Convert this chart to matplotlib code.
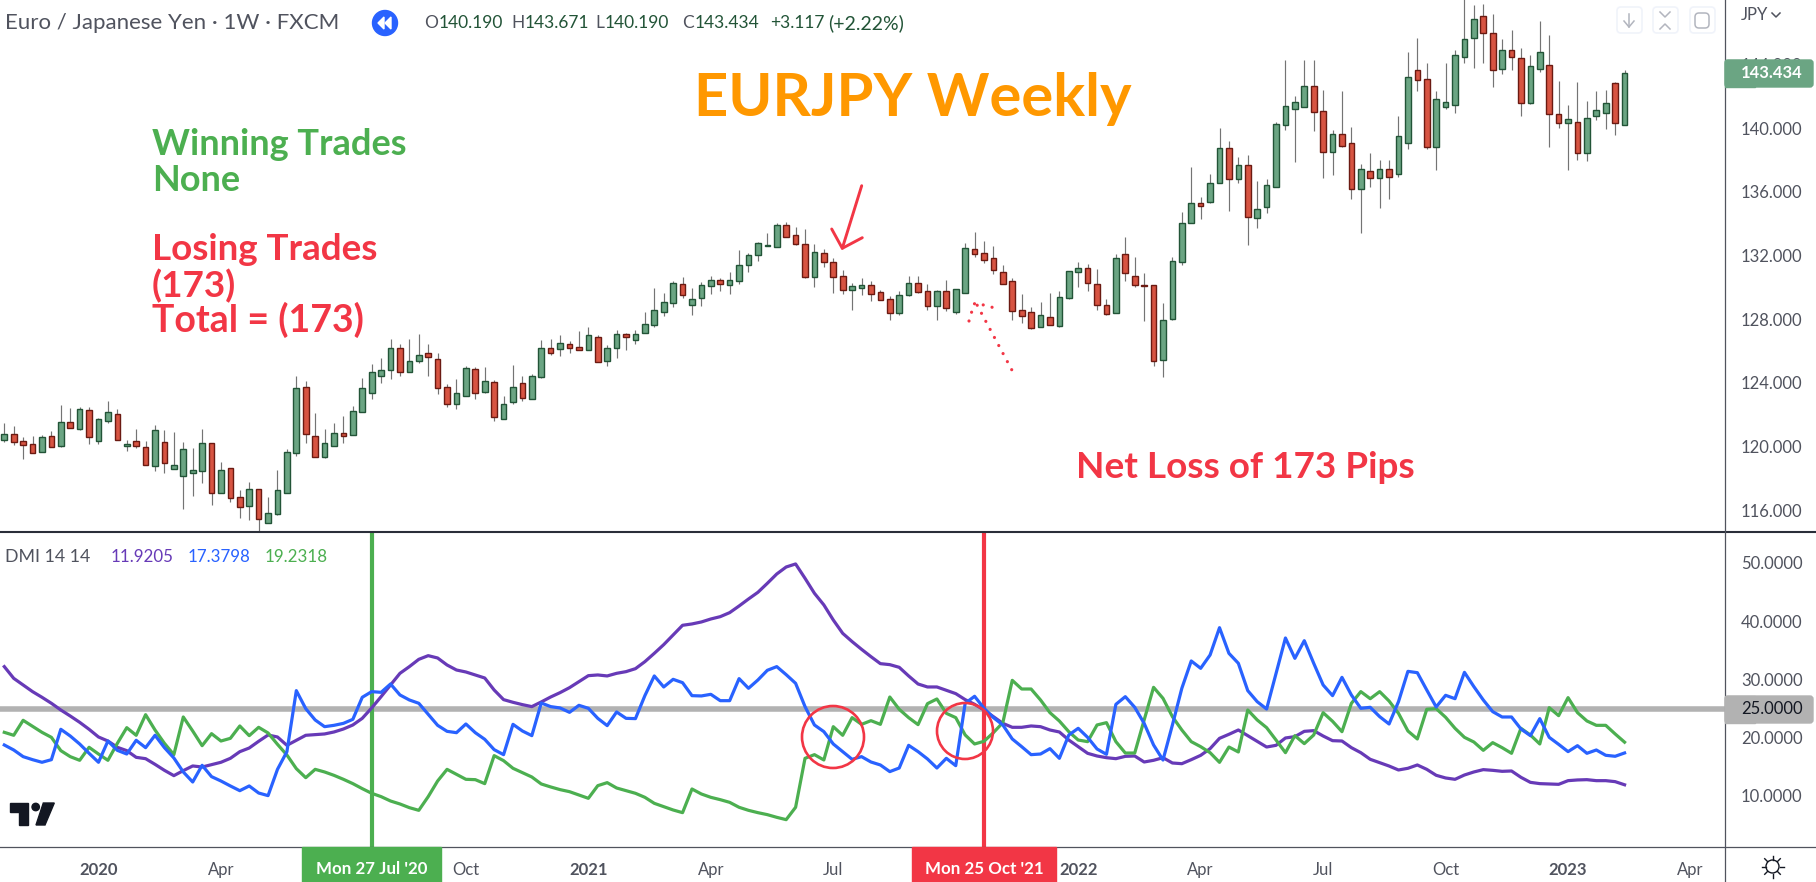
import numpy as np
import pandas as pd
import matplotlib
matplotlib.use('Agg')
import matplotlib.pyplot as plt
from matplotlib.patches import Circle, FancyBboxPatch, Polygon, Rectangle

plt.rcParams['font.family'] = ['Lato', 'DejaVu Sans']

# weekly candles, EURJPY
opens = [120.44,120.77,120.33,120.14,119.68,120.64,120.06,121.52,121.13,122.28,
         120.37,121.63,122.02,120.06,120.33,119.95,118.80,120.27,118.61,118.17,
         118.36,118.49,120.20,117.11,118.64,116.81,116.29,117.32,115.22,115.79,
         117.11,119.62,123.72,120.64,119.37,120.06,120.83,120.75,122.19,123.39,
         124.45,124.79,126.17,124.66,125.39,125.85,125.48,123.72,122.69,123.20,
         124.85,123.45,124.03,121.71,122.78,123.97,122.97,124.39,126.17,126.15,
         126.42,126.23,126.08,126.86,125.39,126.21,127.05,126.71,127.15,127.65,
         128.47,129.03,130.19,128.91,129.35,130.10,130.44,130.16,130.42,131.42,
         132.00,132.61,132.55,133.89,133.26,132.70,130.67,132.13,131.57,130.69,
         129.85,129.98,130.12,129.68,129.24,128.41,129.54,130.25,129.75,128.85,
         129.75,128.47,129.66,132.38,132.13,131.82,130.94,130.37,128.55,128.43,
         127.53,128.11,127.59,129.35,130.98,131.19,130.19,128.87,128.41,132.07,
         130.69,130.12,130.12,125.46,128.03,131.61,134.02,135.27,135.38,136.53,
         138.72,136.82,137.66,134.37,135.06,136.32,140.21,141.21,141.34,142.62,
         141.05,138.51,139.60,139.04,136.19,137.28,136.88,137.40,137.13,139.08,
         143.62,143.05,138.83,141.34,141.46,144.48,145.63,147.01,145.94,143.68,
         144.88,144.37,141.59,143.68,143.93,140.86,140.29,140.36,138.41,140.73,
         140.92,142.80,140.19]
highs = [121.48,121.29,120.58,120.66,120.71,120.98,122.61,122.42,122.47,122.47,
         121.77,122.86,122.34,120.39,121.08,120.33,121.33,121.02,120.89,120.27,
         119.91,121.08,120.20,119.01,118.64,117.25,117.76,117.32,116.81,118.51,
         119.85,124.41,124.10,122.09,121.08,121.46,121.90,122.53,124.29,125.16,
         125.54,126.73,126.42,126.73,127.05,126.42,125.85,123.91,124.22,125.04,
         124.97,124.97,124.16,123.15,125.10,124.41,124.54,126.67,126.73,126.98,
         126.61,127.24,127.49,126.98,126.36,127.30,127.11,127.30,128.43,129.93,
         129.62,130.37,130.62,129.93,130.31,130.69,130.56,130.94,132.32,132.13,
         132.82,133.39,134.01,134.08,133.76,133.64,132.70,132.38,131.82,131.06,
         130.25,130.56,130.37,129.81,129.43,129.75,130.69,130.69,130.19,129.81,
         130.44,129.87,132.76,133.45,132.89,132.57,131.38,130.56,129.56,128.74,
         129.06,129.62,129.75,131.00,131.57,131.44,131.13,129.24,132.07,133.14,
         131.88,130.88,130.12,128.99,131.88,134.71,137.53,135.65,137.09,139.98,
         139.16,138.16,138.28,136.65,136.78,140.36,144.25,141.99,144.25,144.25,
         142.36,139.85,142.30,140.04,137.72,138.41,137.97,137.97,140.73,144.75,
         145.63,144.06,142.30,144.06,144.88,148.50,147.72,147.78,147.14,145.57,
         146.13,145.00,144.56,146.69,145.82,142.95,141.42,142.87,141.67,142.30,
         142.36,142.87,143.67]
lows = [120.31,120.12,119.22,119.62,119.68,120.00,120.00,121.19,121.06,120.18,
        120.18,121.48,120.44,119.72,119.93,118.87,118.49,118.36,118.61,116.10,
        116.92,117.73,116.35,117.11,116.54,115.54,115.41,114.66,115.22,115.71,
        117.11,119.43,120.23,119.37,119.31,120.06,120.25,120.75,122.19,123.01,
        124.01,124.26,124.45,124.66,125.27,124.45,123.32,122.51,122.38,123.20,
        123.01,123.39,121.63,121.71,122.65,122.84,122.97,124.33,125.77,125.71,
        125.90,126.08,126.08,125.33,125.08,125.58,126.08,126.46,127.15,127.53,
        128.22,128.78,129.35,128.28,128.85,129.60,129.79,129.60,130.23,130.98,
        131.67,132.57,132.55,133.18,132.68,130.60,130.04,131.29,129.66,129.60,
        128.59,129.54,129.16,129.22,127.97,128.28,129.47,129.66,128.59,127.97,
        128.53,128.35,129.66,131.92,131.55,130.85,130.23,127.97,127.78,127.40,
        127.53,127.65,127.53,129.28,130.04,129.79,128.60,128.28,128.41,130.42,
        130.04,127.90,125.08,124.39,127.97,131.42,134.02,134.31,135.31,136.53,
        134.81,136.57,132.68,133.74,134.69,136.32,139.89,137.89,141.34,139.83,
        136.88,137.07,138.83,135.56,133.43,136.32,135.00,135.56,136.94,138.70,
        142.34,138.70,137.38,141.21,140.96,144.10,143.79,144.10,142.60,143.41,
        143.66,140.77,141.53,143.54,138.83,140.02,137.38,137.99,137.95,140.48,
        139.96,139.58,140.19]
closes = [120.77,120.31,120.12,119.62,120.58,120.00,121.52,121.19,122.34,120.62,
          121.71,122.15,120.44,120.14,120.06,118.87,121.02,118.99,118.82,119.83,
          118.51,120.20,117.11,118.51,116.79,116.23,117.32,115.47,115.81,117.25,
          119.64,123.66,120.81,119.37,120.20,120.83,120.69,122.21,123.66,124.66,
          124.79,126.17,124.70,125.35,125.73,125.65,123.70,122.69,123.34,124.91,
          123.39,124.10,121.84,122.65,123.72,123.03,124.41,126.17,125.90,126.48,
          126.21,126.08,126.98,125.33,126.17,127.05,126.90,127.05,127.67,128.55,
          129.06,130.25,129.54,129.24,130.12,130.44,130.23,130.44,131.38,132.00,
          132.76,132.63,133.89,133.18,132.74,130.67,132.19,131.61,130.67,129.85,
          130.06,130.12,129.60,129.22,128.41,129.49,130.25,129.73,128.85,129.75,
          128.72,129.87,132.45,132.11,131.73,131.10,130.23,128.53,128.22,127.46,
          128.24,127.65,129.37,131.00,131.19,130.29,128.91,128.34,131.82,130.92,
          130.17,130.10,125.39,127.93,131.63,134.02,135.27,135.13,136.53,138.72,
          136.82,137.66,134.43,134.90,136.40,140.23,141.36,141.61,142.62,141.03,
          138.51,139.60,138.89,136.19,137.40,136.88,137.40,136.94,139.48,143.18,
          143.03,138.83,141.80,141.61,144.56,145.57,146.82,145.94,143.62,144.88,
          144.44,141.55,143.87,144.75,140.86,140.29,140.54,138.45,140.61,141.11,
          141.55,140.29,143.43]

# DMI 14 14
adx = [32.19,30.18,29.04,27.90,26.93,25.90,24.75,23.72,22.64,21.44,
       20.12,19.43,18.35,17.78,16.63,16.40,15.43,14.40,13.49,14.35,
       15.15,14.97,15.37,15.78,16.46,17.60,18.23,19.38,20.46,20.12,
       18.69,19.55,20.41,20.52,20.64,20.98,21.49,22.18,23.32,25.10,
       27.04,29.04,31.04,32.19,33.44,34.07,33.67,32.47,31.61,31.27,
       30.76,30.24,28.18,26.53,26.07,25.67,25.33,26.13,26.98,27.73,
       28.58,29.61,30.64,30.76,30.59,31.04,31.33,31.84,33.04,34.47,
       35.96,37.62,39.28,39.51,39.85,40.36,40.76,41.45,42.59,43.79,
       44.94,46.48,48.08,49.28,49.80,47.34,44.77,42.77,40.19,37.90,
       36.48,35.16,33.90,32.70,32.53,32.07,30.59,29.21,28.70,28.70,
       28.13,27.56,26.53,25.73,24.75,23.61,22.46,21.78,21.78,22.01,
       21.89,21.32,20.98,19.60,18.46,17.32,16.86,16.57,16.40,16.80,
       16.86,15.83,16.12,16.57,15.66,15.54,16.23,16.97,18.12,19.89,
       20.58,21.32,20.35,19.38,18.40,18.69,19.95,20.18,21.09,21.21,
       20.29,19.49,19.43,18.29,17.43,16.29,15.72,15.14,14.46,14.75,
       15.32,14.57,13.55,13.09,12.86,13.60,14.12,14.52,14.40,14.23,
       14.29,13.20,12.34,12.12,12.06,12.00,12.63,12.75,12.80,12.63,
       12.63,12.46,11.92]
plus_di = [18.75,17.89,16.75,16.23,15.78,16.23,21.44,20.29,18.92,17.32,
           15.78,19.43,17.83,17.20,19.55,18.29,20.41,18.29,16.52,14.12,
           12.40,15.26,13.32,12.57,11.72,10.91,11.72,10.51,10.06,14.57,
           17.60,28.07,24.98,23.04,21.89,22.12,22.46,23.15,26.93,27.90,
           27.78,29.21,27.33,26.47,25.90,24.01,22.12,21.09,20.86,22.35,
           20.86,19.72,17.95,17.09,22.29,21.15,20.35,25.95,25.33,25.10,
           24.35,25.55,25.04,23.32,22.07,24.41,23.32,23.27,27.21,30.59,
           28.70,30.01,29.44,27.21,27.16,27.44,26.35,26.35,30.13,28.47,
           29.90,31.56,32.19,30.81,29.33,25.33,22.18,21.04,18.92,17.61,
           16.29,16.75,15.83,15.32,14.18,14.80,18.69,17.61,16.35,14.80,
           16.46,15.20,25.90,27.10,25.04,23.44,22.18,19.78,18.46,17.09,
           17.20,18.12,16.46,20.46,21.61,20.06,18.06,17.15,25.72,27.04,
           25.21,22.46,18.75,16.17,22.18,28.47,33.16,31.90,34.19,38.87,
           34.47,32.76,28.07,26.18,24.92,31.04,37.10,33.61,36.64,32.76,
           29.04,27.21,30.35,27.32,25.04,25.21,23.61,22.35,26.18,31.38,
           31.15,28.18,25.27,27.27,26.69,31.21,28.76,26.47,24.47,23.55,
           23.55,21.49,20.35,23.27,20.06,18.86,17.61,18.63,17.32,17.89,
           16.98,16.81,17.38]
minus_di = [20.92,20.41,22.98,21.95,20.92,20.06,17.78,16.75,16.12,18.35,
            17.20,16.12,19.03,21.72,20.41,23.95,21.32,19.03,17.09,23.55,
            21.15,18.63,20.69,19.43,19.89,22.01,20.35,21.78,20.81,18.86,
            17.03,14.69,13.14,14.57,14.12,13.54,12.86,12.12,11.26,10.46,
            9.89,9.14,8.63,8.00,7.54,9.89,12.57,14.57,13.72,12.86,
            12.80,12.12,16.92,16.06,14.75,14.00,13.26,12.06,11.55,11.09,
            10.74,10.17,9.60,11.77,12.29,11.37,10.92,10.46,9.77,8.74,
            8.17,7.60,7.14,11.20,10.34,9.77,9.37,8.91,8.06,7.54,
            7.14,6.80,6.34,5.94,8.06,16.46,17.09,16.18,21.89,20.41,
            23.44,22.29,22.92,22.29,26.98,24.87,23.44,22.24,25.84,26.64,
            24.18,23.44,20.47,18.92,19.38,20.87,22.58,29.84,28.35,28.35,
            26.47,24.29,22.86,21.03,19.60,19.32,22.18,22.58,19.32,17.37,
            17.37,23.04,28.64,26.75,23.61,21.32,19.32,18.46,17.43,15.77,
            18.40,17.55,24.75,23.04,21.72,19.60,17.43,20.35,18.98,20.46,
            24.29,22.81,21.03,25.89,27.90,26.69,27.90,26.29,24.18,21.15,
            19.78,24.87,24.98,23.50,21.61,20.06,19.26,17.83,19.15,18.29,
            17.32,21.61,20.46,18.92,25.15,23.78,26.87,24.30,22.87,22.12,
            22.12,20.64,19.23]

first_week = '2019-10-28'
tick_dates = ['2020-01-06', '2020-04-06', '2020-10-05', '2021-01-04', '2021-04-05', '2021-07-05',
              '2022-01-03', '2022-04-04', '2022-07-04', '2022-10-03', '2023-01-02', '2023-04-03']
tick_labels = ['2020', 'Apr', 'Oct', '2021', 'Apr', 'Jul', '2022', 'Apr', 'Jul', 'Oct', '2023', 'Apr']
entry_date = '2020-07-27'
exit_date = '2021-10-25'
price_ticks = [116, 120, 124, 128, 132, 136, 140, 144]
dmi_ticks = [10, 20, 30, 40, 50]
dmi_level = 25.0
last_close = 143.434


def week_pos(date):
    return (pd.Timestamp(date) - pd.Timestamp(first_week)).days / 7


W, H = 1816, 882
GREEN = '#4caf50'
RED = '#f23645'
TEXT = '#50535e'

fig = plt.figure(figsize=(W / 100, H / 100), dpi=100, facecolor='white')

# price pane
ax = fig.add_axes([0, 1 - 532 / H, 1725 / W, 532 / H])
opens, highs, lows, closes = map(np.array, (opens, highs, lows, closes))
x = np.arange(len(opens))
up = closes >= opens
ax.vlines(x, lows, highs, colors='#747474', linewidth=0.85, zorder=2)
ax.bar(x[up], (closes - opens)[up], bottom=opens[up], width=0.6, color='#6ba583',
       edgecolor='#225437', linewidth=1.0, zorder=3)
ax.bar(x[~up], (opens - closes)[~up], bottom=closes[~up], width=0.6, color='#d75442',
       edgecolor='#6b1a12', linewidth=1.0, zorder=3)
ax.set_xlim(-0.456, 182.66)
ax.set_ylim(114.64, 148.035)
ax.set_xticks([])
ax.yaxis.tick_right()
ax.set_yticks(price_ticks)
ax.set_yticklabels(['%.3f' % t for t in price_ticks], fontsize=12, color=TEXT)
ax.tick_params(axis='y', length=0, pad=11.5)
for s in ax.spines.values():
    s.set_visible(False)

# DMI pane
ax2 = fig.add_axes([0, 1 - 847 / H, 1725 / W, 314 / H])
ax2.axhline(dmi_level, color='#b2b2b2', linewidth=4, zorder=1)
ax2.plot(x, adx, color='#673ab7', linewidth=2.3, zorder=3)
ax2.plot(x, minus_di, color=GREEN, linewidth=2.3, zorder=3)
ax2.plot(x, plus_di, color='#2962ff', linewidth=2.3, zorder=4)
ax2.axvline(week_pos(entry_date), color=GREEN, linewidth=3, zorder=2)
ax2.axvline(week_pos(exit_date), color=RED, linewidth=3, zorder=2)
ax2.set_xlim(-0.456, 182.66)
ax2.set_ylim(1.25, 55.11)
ax2.set_xticks([week_pos(d) for d in tick_dates])
ax2.set_xticklabels(tick_labels, fontsize=12, color=TEXT)
for lab in ax2.get_xticklabels():
    if lab.get_text().isdigit():
        lab.set_fontweight('bold')
ax2.tick_params(axis='x', length=0, pad=11)
ax2.yaxis.tick_right()
ax2.set_yticks(dmi_ticks)
ax2.set_yticklabels(['%.4f' % t for t in dmi_ticks], fontsize=12, color=TEXT)
ax2.tick_params(axis='y', length=0, pad=11.5)
for s in ax2.spines.values():
    s.set_visible(False)

# overlay in pixel coordinates for frame, notes and icons
ov = fig.add_axes([0, 0, 1, 1], zorder=10)
ov.set_xlim(0, W)
ov.set_ylim(H, 0)
ov.axis('off')
ov.patch.set_alpha(0)

ov.plot([0, W], [532, 532], color='#2a2e39', linewidth=1.5)
ov.plot([0, W], [847, 847], color='#50535e', linewidth=0.9)
ov.plot([1725, 1725], [0, H], color='#50535e', linewidth=0.9)

# header
ov.text(5, 23, 'Euro / Japanese Yen · 1W · FXCM', fontsize=16, color=TEXT, va='center')
ov.add_patch(Circle((385, 23), 12.5, color='#2962ff'))
ov.add_patch(Polygon([(384, 17), (378, 23), (384, 29)], color='white'))
ov.add_patch(Polygon([(391, 17), (385, 23), (391, 29)], color='white'))
ohlc_green = '#225437'
for px, letter, val in [(424, 'O', '140.190'), (511, 'H', '143.671'), (595, 'L', '140.190'), (682, 'C', '143.434')]:
    t = ov.text(px, 23, letter, fontsize=12.5, color=TEXT, va='center')
    ov.annotate(val, xy=(1, 0.5), xycoords=t, xytext=(0.5, 0), textcoords='offset points',
                fontsize=12.5, color=ohlc_green, va='center')
ov.text(770, 23, '+3.117', fontsize=12.5, color=ohlc_green, va='center')
ov.text(828, 23, '(+2.22%)', fontsize=14, color=ohlc_green, va='center')

# DMI legend
ov.text(5, 557, 'DMI 14 14', fontsize=12.8, color=TEXT, va='center')
ov.text(111, 557, '%.4f' % 11.9205, fontsize=12.2, color='#673ab7', va='center')
ov.text(188, 557, '%.4f' % 17.3798, fontsize=12.2, color='#2962ff', va='center')
ov.text(265, 557, '%.4f' % 19.2318, fontsize=12.2, color=GREEN, va='center')

# notes
ov.text(913, 99, 'EURJPY Weekly', fontsize=43, color='#ff9800', fontweight='bold', ha='center', va='center')
ov.text(152, 155, 'Winning Trades', fontsize=26, color=GREEN, fontweight='bold', va='baseline')
ov.text(152, 191, 'None', fontsize=26, color=GREEN, fontweight='bold', va='baseline')
ov.text(152, 260, 'Losing Trades', fontsize=26.5, color=RED, fontweight='bold', va='baseline')
ov.text(152, 297, '(173)', fontsize=26.5, color=RED, fontweight='bold', va='baseline')
ov.text(152, 332, 'Total = (173)', fontsize=27, color=RED, fontweight='bold', va='baseline')
ov.text(1245, 467, 'Net Loss of 173 Pips', fontsize=26.6, color=RED, fontweight='bold', ha='center', va='center')

# hand drawn arrows and circles
ov.plot([861.7, 842.3], [185.7, 248.3], color=RED, linewidth=2.1, solid_capstyle='round')
ov.plot([831.7, 842.3, 862.3], [229, 248.3, 237.7], color=RED, linewidth=2.1, solid_capstyle='round')
ov.plot([1011.7, 976], [369.7, 303], color=RED, linewidth=2.3, linestyle=(0, (0.01, 2.85)), dash_capstyle='round')
ov.plot([969, 974, 976, 993], [321, 304, 303, 307.5], color=RED, linewidth=2.3, linestyle=(0, (0.01, 2.85)),
        dash_capstyle='round')
ov.add_patch(Circle((833, 737), 31, fill=False, edgecolor=RED, linewidth=1.9))
ov.add_patch(Circle((965, 731), 28, fill=False, edgecolor=RED, linewidth=1.9))

# boxes on the scales
ov.add_patch(Rectangle((1725, 60), 30, 27, color='#6ba583', zorder=5))
ov.add_patch(FancyBboxPatch((1725, 60), 88, 27, boxstyle='round,pad=0,rounding_size=3', color='#6ba583', zorder=5))
ov.text(1803, 73.5, '%.3f' % last_close, fontsize=12, color='white', fontweight='bold', ha='right', va='center', zorder=6)
ov.add_patch(Rectangle((1725, 696), 30, 27, color='#b2b2b2', zorder=5))
ov.add_patch(FancyBboxPatch((1725, 696), 88, 27, boxstyle='round,pad=0,rounding_size=3', color='#b2b2b2', zorder=5))
ov.text(1803, 709.5, '%.4f' % dmi_level, fontsize=12, color='#131722', ha='right', va='center', zorder=6)
ov.add_patch(Rectangle((302, 847), 139, 35, color=GREEN, zorder=5))
ov.text(372, 869, "Mon 27 Jul '20", fontsize=12.2, color='white', fontweight='bold', ha='center', va='center', zorder=6)
ov.add_patch(Rectangle((912, 847), 144, 35, color=RED, zorder=5))
ov.text(984, 869, "Mon 25 Oct '21", fontsize=12.2, color='white', fontweight='bold', ha='center', va='center', zorder=6)

# JPY unit
ov.text(1741, 15, 'JPY', fontsize=12, color=TEXT, va='center')
ov.plot([1772, 1776, 1780], [13, 17, 13], color=TEXT, linewidth=1.1)

# corner buttons
for bx in (1615, 1651, 1688):
    ov.add_patch(FancyBboxPatch((bx + 2, 7), 25, 26, boxstyle='round,pad=0,rounding_size=4',
                                fill=False, edgecolor='#f0f3fa', linewidth=1.2))
icon = '#b2b5be'
ov.plot([1629, 1629], [14, 27], color=icon, linewidth=1.1)
ov.plot([1624, 1629, 1634], [21, 27, 21], color=icon, linewidth=1.1)
ov.plot([1660, 1665, 1670], [12, 17, 12], color=icon, linewidth=1.1)
ov.plot([1660, 1665, 1670], [29, 24, 29], color=icon, linewidth=1.1)
ov.add_patch(FancyBboxPatch((1695, 13), 14, 15, boxstyle='round,pad=0,rounding_size=4',
                            fill=False, edgecolor=icon, linewidth=1.1))

# tradingview mark
mark = '#131722'
ov.add_patch(Polygon([(10, 803), (28.3, 803), (28.3, 825), (19.3, 825), (19.3, 812), (10, 812)], color=mark))
ov.add_patch(Circle((35.7, 807), 3.7, color=mark))
ov.add_patch(Polygon([(43.3, 803), (54.3, 803), (45, 825), (36, 825)], color=mark))

# theme icon
ov.add_patch(Circle((1772.5, 866.5), 6.5, fill=False, edgecolor='#131722', linewidth=1.0))
for a in np.radians(np.arange(0, 360, 45)):
    ov.plot([1772.5 + 7 * np.cos(a), 1772.5 + 11 * np.cos(a)], [866.5 + 7 * np.sin(a), 866.5 + 11 * np.sin(a)],
            color='#131722', linewidth=1.0)

fig.savefig('out.png', dpi=100)
